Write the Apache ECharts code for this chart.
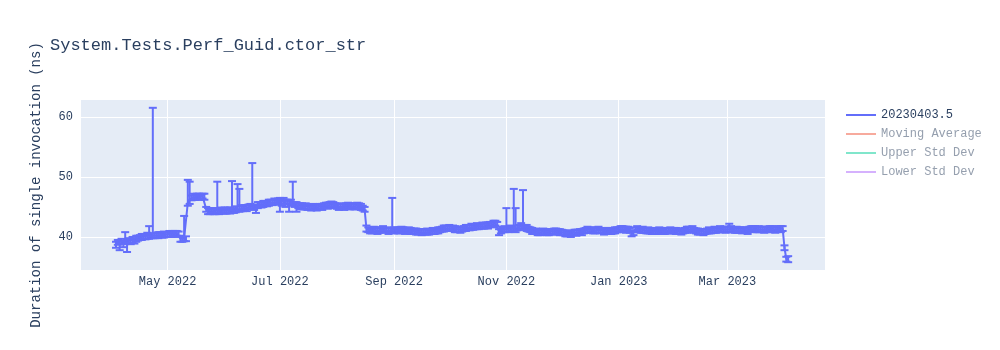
<!DOCTYPE html>
<html>
<head>
<meta charset="utf-8">
<script src="https://cdn.jsdelivr.net/npm/echarts@6/dist/echarts.min.js"></script>
<style>html,body{margin:0;padding:0;background:#fff}#c{width:1000px;height:350px}</style>
</head>
<body>
<div id="c"></div>
<script>
const titleText = 'System.Tests.Perf_Guid.ctor_str';
const yAxisTitle = 'Duration of single invocation (ns)';
const seriesNames = ['20230403.5', 'Moving Average', 'Upper Std Dev', 'Lower Std Dev'];

// one run per day, 2022-04-03 .. 2023-04-03
const dates = [
  '2022-04-03','2022-04-04','2022-04-05','2022-04-06','2022-04-07','2022-04-08','2022-04-09','2022-04-10','2022-04-11','2022-04-12','2022-04-13','2022-04-14','2022-04-15','2022-04-16','2022-04-17','2022-04-18','2022-04-19','2022-04-20','2022-04-21','2022-04-22','2022-04-23','2022-04-24','2022-04-25','2022-04-26','2022-04-27','2022-04-28','2022-04-29','2022-04-30',
  '2022-05-01','2022-05-02','2022-05-03','2022-05-04','2022-05-05','2022-05-06','2022-05-07','2022-05-08','2022-05-09','2022-05-10','2022-05-11','2022-05-12','2022-05-13','2022-05-14','2022-05-15','2022-05-16','2022-05-17','2022-05-18','2022-05-19','2022-05-20','2022-05-21','2022-05-22','2022-05-23','2022-05-24','2022-05-25','2022-05-26','2022-05-27','2022-05-28','2022-05-29','2022-05-30','2022-05-31',
  '2022-06-01','2022-06-02','2022-06-03','2022-06-04','2022-06-05','2022-06-06','2022-06-07','2022-06-08','2022-06-09','2022-06-10','2022-06-11','2022-06-12','2022-06-13','2022-06-14','2022-06-15','2022-06-16','2022-06-17','2022-06-18','2022-06-19','2022-06-20','2022-06-21','2022-06-22','2022-06-23','2022-06-24','2022-06-25','2022-06-26','2022-06-27','2022-06-28','2022-06-29','2022-06-30',
  '2022-07-01','2022-07-02','2022-07-03','2022-07-04','2022-07-05','2022-07-06','2022-07-07','2022-07-08','2022-07-09','2022-07-10','2022-07-11','2022-07-12','2022-07-13','2022-07-14','2022-07-15','2022-07-16','2022-07-17','2022-07-18','2022-07-19','2022-07-20','2022-07-21','2022-07-22','2022-07-23','2022-07-24','2022-07-25','2022-07-26','2022-07-27','2022-07-28','2022-07-29','2022-07-30','2022-07-31',
  '2022-08-01','2022-08-02','2022-08-03','2022-08-04','2022-08-05','2022-08-06','2022-08-07','2022-08-08','2022-08-09','2022-08-10','2022-08-11','2022-08-12','2022-08-13','2022-08-14','2022-08-15','2022-08-16','2022-08-17','2022-08-18','2022-08-19','2022-08-20','2022-08-21','2022-08-22','2022-08-23','2022-08-24','2022-08-25','2022-08-26','2022-08-27','2022-08-28','2022-08-29','2022-08-30','2022-08-31',
  '2022-09-01','2022-09-02','2022-09-03','2022-09-04','2022-09-05','2022-09-06','2022-09-07','2022-09-08','2022-09-09','2022-09-10','2022-09-11','2022-09-12','2022-09-13','2022-09-14','2022-09-15','2022-09-16','2022-09-17','2022-09-18','2022-09-19','2022-09-20','2022-09-21','2022-09-22','2022-09-23','2022-09-24','2022-09-25','2022-09-26','2022-09-27','2022-09-28','2022-09-29','2022-09-30',
  '2022-10-01','2022-10-02','2022-10-03','2022-10-04','2022-10-05','2022-10-06','2022-10-07','2022-10-08','2022-10-09','2022-10-10','2022-10-11','2022-10-12','2022-10-13','2022-10-14','2022-10-15','2022-10-16','2022-10-17','2022-10-18','2022-10-19','2022-10-20','2022-10-21','2022-10-22','2022-10-23','2022-10-24','2022-10-25','2022-10-26','2022-10-27','2022-10-28','2022-10-29','2022-10-30','2022-10-31',
  '2022-11-01','2022-11-02','2022-11-03','2022-11-04','2022-11-05','2022-11-06','2022-11-07','2022-11-08','2022-11-09','2022-11-10','2022-11-11','2022-11-12','2022-11-13','2022-11-14','2022-11-15','2022-11-16','2022-11-17','2022-11-18','2022-11-19','2022-11-20','2022-11-21','2022-11-22','2022-11-23','2022-11-24','2022-11-25','2022-11-26','2022-11-27','2022-11-28','2022-11-29','2022-11-30',
  '2022-12-01','2022-12-02','2022-12-03','2022-12-04','2022-12-05','2022-12-06','2022-12-07','2022-12-08','2022-12-09','2022-12-10','2022-12-11','2022-12-12','2022-12-13','2022-12-14','2022-12-15','2022-12-16','2022-12-17','2022-12-18','2022-12-19','2022-12-20','2022-12-21','2022-12-22','2022-12-23','2022-12-24','2022-12-25','2022-12-26','2022-12-27','2022-12-28','2022-12-29','2022-12-30','2022-12-31',
  '2023-01-01','2023-01-02','2023-01-03','2023-01-04','2023-01-05','2023-01-06','2023-01-07','2023-01-08','2023-01-09','2023-01-10','2023-01-11','2023-01-12','2023-01-13','2023-01-14','2023-01-15','2023-01-16','2023-01-17','2023-01-18','2023-01-19','2023-01-20','2023-01-21','2023-01-22','2023-01-23','2023-01-24','2023-01-25','2023-01-26','2023-01-27','2023-01-28','2023-01-29','2023-01-30','2023-01-31',
  '2023-02-01','2023-02-02','2023-02-03','2023-02-04','2023-02-05','2023-02-06','2023-02-07','2023-02-08','2023-02-09','2023-02-10','2023-02-11','2023-02-12','2023-02-13','2023-02-14','2023-02-15','2023-02-16','2023-02-17','2023-02-18','2023-02-19','2023-02-20','2023-02-21','2023-02-22','2023-02-23','2023-02-24','2023-02-25','2023-02-26','2023-02-27','2023-02-28',
  '2023-03-01','2023-03-02','2023-03-03','2023-03-04','2023-03-05','2023-03-06','2023-03-07','2023-03-08','2023-03-09','2023-03-10','2023-03-11','2023-03-12','2023-03-13','2023-03-14','2023-03-15','2023-03-16','2023-03-17','2023-03-18','2023-03-19','2023-03-20','2023-03-21','2023-03-22','2023-03-23','2023-03-24','2023-03-25','2023-03-26','2023-03-27','2023-03-28','2023-03-29','2023-03-30','2023-03-31',
  '2023-04-01','2023-04-02','2023-04-03'
];

const values = [
  38.7,39.1,38.9,39.3,38.8,39.2,39.0,39.4,39.2,39.5,39.3,39.7,39.8,39.9,40.0,40.1,40.0,40.2,40.1,40.2,40.3,40.2,40.3,40.3,40.4,40.3,40.4,40.4,
  40.4,40.5,40.4,40.6,40.5,40.6,40.5,39.7,39.6,39.8,39.7,45.7,46.0,46.5,46.7,46.6,46.8,46.7,46.6,46.8,46.7,44.6,44.3,44.2,44.4,44.3,44.2,44.4,44.3,44.5,44.3,
  44.4,44.3,44.5,44.4,44.5,44.4,44.6,44.7,44.6,44.8,44.7,44.9,44.8,45.0,45.1,45.2,44.9,45.0,45.3,45.4,45.3,45.5,45.6,45.5,45.7,45.8,45.7,45.9,45.8,46.0,
  45.9,45.7,46.0,45.6,45.8,45.5,45.7,45.9,45.4,45.3,45.2,45.1,45.2,45.0,45.1,44.9,45.0,44.9,45.1,45.0,44.9,45.0,45.1,45.0,45.2,45.3,45.2,45.4,45.5,45.3,45.2,
  45.1,45.0,45.2,45.1,45.0,45.2,45.3,45.1,45.2,45.0,45.1,45.3,45.2,45.0,44.8,44.6,41.4,41.2,41.0,41.1,41.3,41.2,41.0,41.1,41.2,41.3,41.1,41.2,41.0,41.1,41.2,
  41.1,41.2,41.0,41.1,41.3,41.2,41.0,41.1,41.2,41.0,40.9,41.0,40.9,40.8,40.9,40.8,40.9,40.8,40.9,40.8,40.9,41.0,40.9,41.0,41.1,41.2,41.3,41.4,41.5,41.4,
  41.5,41.4,41.5,41.3,41.2,41.3,41.2,41.3,41.4,41.5,41.6,41.5,41.7,41.6,41.7,41.8,41.7,41.8,41.9,41.8,42.0,41.9,42.1,42.0,42.2,42.3,42.1,40.8,41.0,41.2,41.3,
  41.3,41.2,41.4,41.3,41.4,41.3,41.5,41.6,41.8,41.7,41.6,41.5,41.3,41.2,41.0,40.9,41.0,40.8,40.7,40.8,40.9,40.8,40.7,40.8,40.9,40.8,40.9,41.0,40.9,40.8,
  40.8,40.7,40.6,40.5,40.6,40.5,40.7,40.8,40.7,40.8,40.9,40.8,41.0,41.1,41.2,41.1,41.2,41.1,41.0,41.1,41.2,41.0,41.1,40.9,41.0,41.1,41.0,40.9,41.0,41.1,41.2,
  41.2,41.3,41.4,41.3,41.2,41.3,41.1,40.6,40.7,41.2,41.3,41.2,41.1,41.2,41.1,41.0,41.1,41.0,40.9,41.0,40.9,41.0,41.1,41.0,40.9,41.0,41.1,41.0,41.1,41.0,41.1,
  41.0,40.9,41.0,40.9,41.0,41.1,41.2,41.3,41.2,41.3,41.1,41.0,40.9,40.8,40.9,40.8,40.9,41.0,41.1,41.0,41.1,41.2,41.1,41.2,41.3,41.2,41.3,41.2,
  41.3,41.2,41.3,41.2,41.1,41.2,41.1,41.2,41.1,41.2,41.1,41.0,41.3,41.4,41.3,41.4,41.2,41.3,41.2,41.3,41.2,41.3,41.2,41.3,41.4,41.3,41.2,41.3,41.4,41.3,41.4,
  38.2,36.3,36.3
];

// symmetric error of each run
const errs = [
  0.5,0.4,0.5,0.4,0.5,0.4,0.5,0.4,0.4,0.5,0.4,0.5,0.4,0.4,0.5,0.4,0.4,0.5,0.4,0.4,0.5,0.4,0.4,0.5,0.4,0.4,0.5,0.4,
  0.4,0.5,0.4,0.4,0.5,0.4,0.4,0.5,0.4,0.5,0.4,0.5,0.5,0.4,0.5,0.4,0.4,0.5,0.4,0.4,0.5,0.4,0.5,0.4,0.4,0.5,0.4,0.4,0.5,0.4,0.4,
  0.5,0.4,0.4,0.5,0.4,0.4,0.5,0.4,0.4,0.5,0.4,0.4,0.5,0.4,0.4,0.5,0.4,0.4,0.5,0.4,0.4,0.5,0.4,0.4,0.5,0.4,0.4,0.5,0.4,0.4,
  0.6,0.5,0.5,0.6,0.4,0.5,0.5,0.6,0.4,0.5,0.4,0.5,0.4,0.4,0.5,0.4,0.4,0.5,0.4,0.4,0.5,0.4,0.4,0.5,0.4,0.4,0.5,0.4,0.4,0.5,0.4,
  0.4,0.5,0.4,0.4,0.5,0.4,0.4,0.5,0.4,0.4,0.5,0.4,0.4,0.5,0.4,0.4,0.5,0.4,0.4,0.5,0.4,0.4,0.5,0.4,0.4,0.5,0.4,0.4,0.5,0.4,0.4,
  0.5,0.4,0.4,0.5,0.4,0.4,0.5,0.4,0.4,0.5,0.4,0.4,0.5,0.4,0.4,0.5,0.4,0.4,0.5,0.4,0.4,0.5,0.4,0.4,0.5,0.4,0.4,0.5,0.4,0.4,
  0.5,0.4,0.4,0.5,0.4,0.4,0.5,0.4,0.4,0.5,0.4,0.4,0.5,0.4,0.4,0.5,0.4,0.4,0.5,0.4,0.4,0.5,0.4,0.4,0.5,0.4,0.4,0.5,0.4,0.4,0.5,
  0.4,0.4,0.5,0.4,0.4,0.5,0.4,0.4,0.5,0.4,0.4,0.5,0.4,0.4,0.5,0.4,0.4,0.5,0.4,0.4,0.5,0.4,0.4,0.5,0.4,0.4,0.5,0.4,0.4,0.5,
  0.4,0.4,0.5,0.4,0.4,0.5,0.4,0.4,0.5,0.4,0.4,0.5,0.4,0.4,0.5,0.4,0.4,0.5,0.4,0.4,0.5,0.4,0.4,0.5,0.4,0.4,0.5,0.4,0.4,0.5,0.4,
  0.4,0.5,0.4,0.4,0.5,0.4,0.4,0.5,0.4,0.4,0.5,0.4,0.4,0.5,0.4,0.4,0.5,0.4,0.4,0.5,0.4,0.4,0.5,0.4,0.4,0.5,0.4,0.4,0.5,0.4,0.4,
  0.5,0.4,0.4,0.5,0.4,0.4,0.5,0.4,0.4,0.5,0.4,0.4,0.5,0.4,0.4,0.5,0.4,0.4,0.5,0.4,0.4,0.5,0.4,0.4,0.5,0.4,0.4,0.5,
  0.4,0.4,0.5,0.4,0.4,0.5,0.4,0.4,0.5,0.4,0.4,0.5,0.4,0.4,0.5,0.4,0.4,0.5,0.4,0.4,0.5,0.4,0.4,0.5,0.4,0.4,0.5,0.4,0.4,0.5,0.4,
  0.4,0.4,0.5
];

// runs whose error bar reaches far above / below
const spikeDates = ['2022-04-08','2022-04-21','2022-04-23','2022-05-10','2022-05-12','2022-05-13','2022-05-28','2022-06-05','2022-06-08','2022-06-09','2022-06-16','2022-07-08','2022-08-31','2022-11-01','2022-11-05','2022-11-06','2022-11-10','2023-03-02'];
const spikeTops  = [40.8, 41.8, 61.5, 43.5, 49.5, 49.2, 49.2, 49.3, 48.8, 48.0, 52.3, 49.2, 46.5, 44.8, 48.0, 44.8, 47.8, 42.2];
const dipDates   = ['2022-04-05','2022-04-09','2022-06-18','2022-07-01','2022-07-06','2022-07-10'];
const dipBottoms = [37.8, 37.5, 44.0, 44.2, 44.2, 44.2];

const xTickDates = ['2022-05-01','2022-07-01','2022-09-01','2022-11-01','2023-01-01','2023-03-01'];
const monthNames = ['Jan','Feb','Mar','Apr','May','Jun','Jul','Aug','Sep','Oct','Nov','Dec'];
const yTicks = [40, 50, 60];
const xRange = ['2022-03-15', '2023-04-23'];
const yRange = [34.5, 62.8];

console.log(dates.length, values.length, errs.length);

const mono = '"Liberation Mono", "DejaVu Sans Mono", monospace';
const textColor = '#2a3f5f';
const mainColor = '#636efa';
const fadedText = '#959fae';

const toTs = s => { const p = s.split('-').map(Number); return new Date(p[0], p[1]-1, p[2]).getTime(); };

const lineData = dates.map((d, i) => [toTs(d), values[i]]);
const errData = dates.map((d, i) => {
  let lo = values[i] - errs[i], hi = values[i] + errs[i];
  const s = spikeDates.indexOf(d); if (s >= 0) hi = spikeTops[s];
  const k = dipDates.indexOf(d); if (k >= 0) lo = dipBottoms[k];
  return [toTs(d), lo, hi];
});

const chart = echarts.init(document.getElementById('c'), null, {renderer: 'canvas'});
chart.setOption({
  animation: false,
  backgroundColor: '#ffffff',
  title: {
    text: titleText,
    left: 50, top: 37, padding: 0,
    textStyle: {fontFamily: mono, fontSize: 17, fontWeight: 'normal', color: textColor}
  },
  legend: {
    orient: 'vertical',
    left: 846, top: 108, padding: 0,
    icon: 'rect',
    itemWidth: 30, itemHeight: 2,
    itemGap: 5,
    textStyle: {fontFamily: mono, fontSize: 12, color: textColor, lineHeight: 14},
    data: [
      {name: seriesNames[0], itemStyle: {color: mainColor}},
      {name: seriesNames[1], itemStyle: {color: '#f7aa9d'}, textStyle: {color: fadedText}},
      {name: seriesNames[2], itemStyle: {color: '#80e6cb'}, textStyle: {color: fadedText}},
      {name: seriesNames[3], itemStyle: {color: '#d5b1fd'}, textStyle: {color: fadedText}}
    ]
  },
  grid: {
    left: 81, right: 175, top: 100, bottom: 80,
    show: true, backgroundColor: '#e5ecf6', borderWidth: 0
  },
  xAxis: {
    type: 'value',
    min: toTs(xRange[0]), max: toTs(xRange[1]),
    axisLine: {show: false},
    axisTick: {show: false, customValues: xTickDates.map(toTs)},
    axisLabel: {
      customValues: xTickDates.map(toTs),
      fontFamily: mono, fontSize: 12, color: textColor, margin: 6,
      formatter: v => { const d = new Date(v); return monthNames[d.getMonth()] + ' ' + d.getFullYear(); }
    },
    splitLine: {show: true, lineStyle: {color: '#ffffff', width: 1}}
  },
  yAxis: {
    type: 'value',
    min: yRange[0], max: yRange[1],
    name: yAxisTitle,
    nameLocation: 'middle',
    nameGap: 38,
    nameTextStyle: {fontFamily: mono, fontSize: 14, color: textColor},
    axisLine: {show: false},
    axisTick: {show: false, customValues: yTicks},
    axisLabel: {customValues: yTicks, fontFamily: mono, fontSize: 12, color: textColor, margin: 8},
    splitLine: {show: true, lineStyle: {color: '#ffffff', width: 1}}
  },
  series: [
    {
      name: seriesNames[0],
      type: 'line',
      data: lineData,
      showSymbol: false,
      lineStyle: {color: mainColor, width: 2},
      itemStyle: {color: mainColor},
      z: 3
    },
    {
      name: seriesNames[0],
      type: 'custom',
      data: errData,
      z: 4,
      renderItem: (params, api) => {
        const x = api.value(0), lo = api.value(1), hi = api.value(2);
        const pLo = api.coord([x, lo]), pHi = api.coord([x, hi]);
        const hw = 4;
        const st = {stroke: mainColor, lineWidth: 2};
        return {type: 'group', children: [
          {type: 'line', shape: {x1: pLo[0], y1: pLo[1], x2: pHi[0], y2: pHi[1]}, style: st},
          {type: 'line', shape: {x1: pLo[0]-hw, y1: pLo[1], x2: pLo[0]+hw, y2: pLo[1]}, style: st},
          {type: 'line', shape: {x1: pHi[0]-hw, y1: pHi[1], x2: pHi[0]+hw, y2: pHi[1]}, style: st}
        ]};
      }
    },
    {name: seriesNames[1], type: 'line', data: [], itemStyle: {color: '#f7aa9d'}},
    {name: seriesNames[2], type: 'line', data: [], itemStyle: {color: '#80e6cb'}},
    {name: seriesNames[3], type: 'line', data: [], itemStyle: {color: '#d5b1fd'}}
  ]
});
</script>
</body>
</html>
